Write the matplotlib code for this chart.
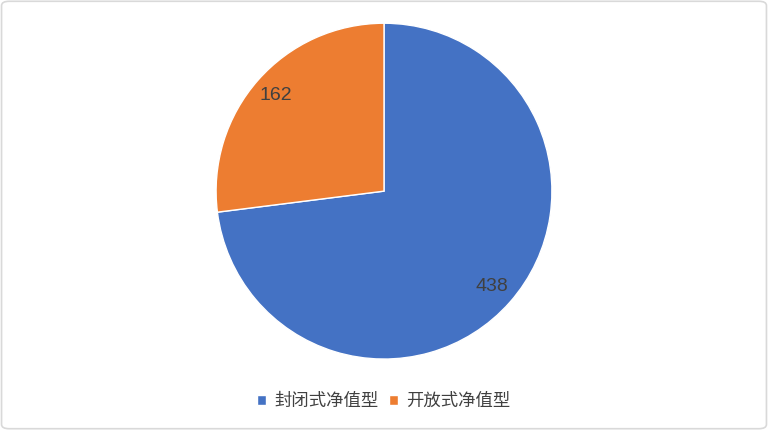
import matplotlib.pyplot as plt
from matplotlib.patches import FancyBboxPatch

plt.rcParams['font.family'] = ['Noto Sans CJK SC', 'DejaVu Sans']

categories = ['封闭式净值型', '开放式净值型']
values = [438, 162]
colors = ['#4472C4', '#ED7D31']

fig = plt.figure(figsize=(7.68, 4.30), dpi=100)
# rounded gray frame around the chart
fig.patches.append(FancyBboxPatch((0.002, 0.003), 0.996, 0.994, boxstyle='round,pad=0,rounding_size=0.01',
                                  transform=fig.transFigure, fill=False, edgecolor='#d9d9d9', linewidth=1.2))

ax = fig.add_axes([0.28125, 0.165, 0.4375, 0.781])
wedges, texts = ax.pie(values, colors=colors, startangle=90, counterclock=False,
                       labels=[str(v) for v in values], labeldistance=0.86,
                       wedgeprops=dict(edgecolor='white', linewidth=1),
                       textprops=dict(fontsize=14, color='#404040', family=['Liberation Sans', 'DejaVu Sans']))
for t in texts:
    t.set_ha('center')
    t.set_va('center')
ax.set_xlim(-1, 1)
ax.set_ylim(-1, 1)
ax.set_aspect('equal')

fig.legend(wedges, categories, loc='center', bbox_to_anchor=(0.5, 0.068), ncol=2, frameon=False,
           fontsize=12.5, handlelength=0.5, handleheight=0.5, handletextpad=0.5, columnspacing=0.6,
           labelcolor='#404040')

fig.savefig('out.png', dpi=100)
